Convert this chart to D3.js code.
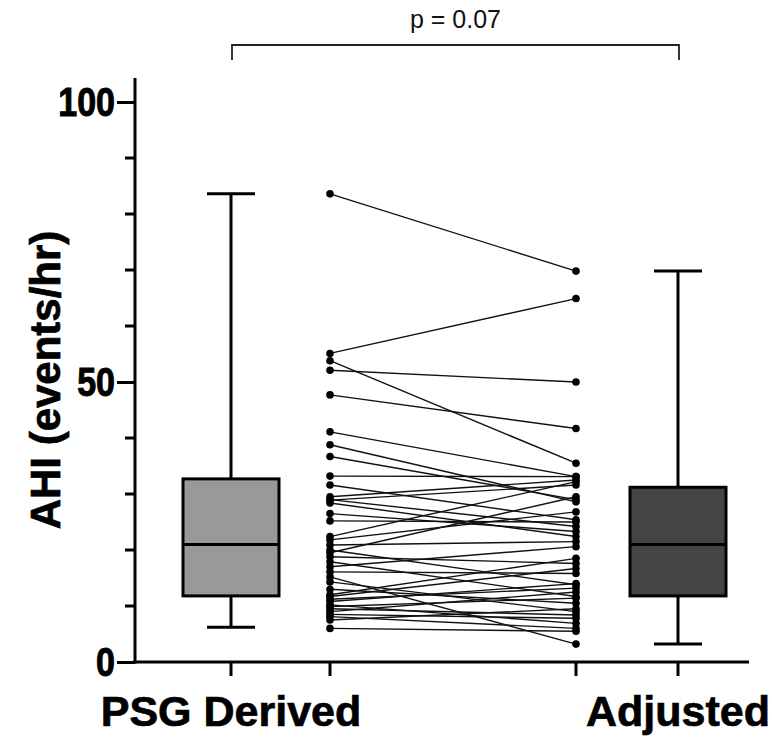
<!DOCTYPE html>
<html>
<head>
<meta charset="utf-8">
<script src="https://cdn.jsdelivr.net/npm/d3@7/dist/d3.min.js"></script>
<style>
  html, body { margin: 0; padding: 0; background: #ffffff; }
  svg { display: block; }
</style>
</head>
<body>
<svg id="chart" width="772" height="739"></svg>
<script>
// ---------------- DATA ----------------
const groups = ["PSG Derived", "Adjusted"];
const yTickValues = [0, 50, 100];
const yMinorTicks = [10, 20, 30, 40, 60, 70, 80, 90];
const yLabel = "AHI (events/hr)";
const pLabel = "p = 0.07";

// box-plot summaries: [min, q1, median, q3, max]
const psgBox = [6.2, 11.8, 21.0, 32.7, 83.6];
const adjBox = [3.2, 11.8, 21.0, 31.2, 69.8];

// paired per-subject values (PSG derived -> adjusted)
const psgValues = [83.6, 55.1, 53.8, 52.1, 47.7, 41.1, 38.8, 36.7, 33.2, 31.6,
                   29.5, 28.9, 28.4, 26.5, 25.2, 22.4, 21.8, 20.9, 20.0, 18.8,
                   17.9, 17.0, 16.1, 15.2, 14.3, 12.0, 11.7, 11.2, 10.8, 10.2,
                   9.9, 9.5, 9.0, 8.5, 8.1, 7.5, 6.0, 29.0, 19.5, 13.0];
const adjValues = [69.8, 64.9, 35.5, 50.0, 41.7, 33.1, 28.6, 29.0, 33.1, 25.4,
                   32.5, 31.6, 22.4, 23.3, 25.0, 32.2, 26.8, 21.5, 13.8, 17.6,
                   11.7, 20.6, 15.8, 3.2, 9.0, 18.5, 16.7, 13.2, 14.0, 6.9,
                   11.4, 8.4, 12.5, 7.8, 6.0, 9.5, 5.5, 24.2, 29.5, 10.5];

// ---------------- LAYOUT ----------------
const svg = d3.select("#chart");
svg.append("rect").attr("width", 772).attr("height", 739).attr("fill", "#fff");

const axisX = 135, axisY = 662, axisRight = 749;
const y = d3.scaleLinear().domain([0, 100]).range([662, 102]);

// slot positions: box, points, points, box
const slots = ["psgBox", "psgPts", "adjPts", "adjBox"];
const x = d3.scaleOrdinal().domain(slots).range([231, 330, 576, 678]);

const boxW = 96, capW = 48;
const fontBold = "'Liberation Sans', Arial, sans-serif";

// ----- Y axis -----
const yAxisG = svg.append("g").attr("transform", `translate(${axisX},0)`);
yAxisG.call(d3.axisLeft(y).tickValues(yTickValues).tickSize(18).tickSizeOuter(0).tickPadding(2))
  .call(g => g.select(".domain").remove());
yAxisG.selectAll(".tick line").attr("stroke", "#000").attr("stroke-width", 3);
yAxisG.selectAll(".tick text")
  .attr("font-family", fontBold).attr("font-weight", "bold")
  .attr("font-size", 40).attr("fill", "#000")
  .attr("stroke", "#000").attr("stroke-width", 1)
  .attr("dy", "0.34em")
  .each(function () {
    const w = this.getComputedTextLength();
    d3.select(this).attr("textLength", w * 0.85).attr("lengthAdjust", "spacingAndGlyphs");
  });
yAxisG.selectAll(".minor").data(yMinorTicks).enter().append("line")
  .attr("x1", -10).attr("x2", 0)
  .attr("y1", d => y(d)).attr("y2", d => y(d))
  .attr("stroke", "#000").attr("stroke-width", 3);
yAxisG.append("line")
  .attr("x1", 0).attr("x2", 0)
  .attr("y1", y(0) + 1.5).attr("y2", y(104.3))
  .attr("stroke", "#000").attr("stroke-width", 3);

// ----- X axis -----
svg.append("line")
  .attr("x1", axisX - 1.5).attr("x2", axisRight)
  .attr("y1", axisY).attr("y2", axisY)
  .attr("stroke", "#000").attr("stroke-width", 3);
svg.selectAll(".xtick").data(slots).enter().append("line")
  .attr("x1", d => x(d)).attr("x2", d => x(d))
  .attr("y1", axisY).attr("y2", axisY + 14)
  .attr("stroke", "#000").attr("stroke-width", 3);

svg.selectAll(".xlabel").data(groups).enter().append("text")
  .attr("x", (d, i) => x(i === 0 ? "psgBox" : "adjBox"))
  .attr("y", 726)
  .attr("text-anchor", "middle")
  .attr("font-family", fontBold).attr("font-weight", "bold")
  .attr("font-size", 43).attr("fill", "#000")
  .attr("stroke", "#000").attr("stroke-width", 0.7)
  .text(d => d);

// Y label
svg.append("text")
  .attr("transform", `translate(60,380) rotate(-90)`)
  .attr("text-anchor", "middle")
  .attr("font-family", fontBold).attr("font-weight", "bold")
  .attr("font-size", 42).attr("fill", "#000")
  .attr("stroke", "#000").attr("stroke-width", 0.7)
  .text(yLabel);

// ----- Box plots -----
function drawBox(stats, cx, fill) {
  const [mn, q1, med, q3, mx] = stats;
  const g = svg.append("g");
  g.append("line").attr("x1", cx).attr("x2", cx).attr("y1", y(mx)).attr("y2", y(q3))
    .attr("stroke", "#000").attr("stroke-width", 3);
  g.append("line").attr("x1", cx).attr("x2", cx).attr("y1", y(q1)).attr("y2", y(mn))
    .attr("stroke", "#000").attr("stroke-width", 3);
  g.append("line").attr("x1", cx - capW / 2).attr("x2", cx + capW / 2).attr("y1", y(mx)).attr("y2", y(mx))
    .attr("stroke", "#000").attr("stroke-width", 3);
  g.append("line").attr("x1", cx - capW / 2).attr("x2", cx + capW / 2).attr("y1", y(mn)).attr("y2", y(mn))
    .attr("stroke", "#000").attr("stroke-width", 3);
  g.append("rect").attr("x", cx - boxW / 2).attr("width", boxW)
    .attr("y", y(q3)).attr("height", y(q1) - y(q3))
    .attr("fill", fill).attr("stroke", "#000").attr("stroke-width", 3);
  g.append("line").attr("x1", cx - boxW / 2).attr("x2", cx + boxW / 2).attr("y1", y(med)).attr("y2", y(med))
    .attr("stroke", "#000").attr("stroke-width", 3);
}
drawBox(psgBox, x("psgBox"), "#999999");
drawBox(adjBox, x("adjBox"), "#444444");

// ----- Paired lines -----
const pairs = psgValues.map((v, i) => ({ a: v, b: adjValues[i] }));
svg.append("g").selectAll("line").data(pairs).enter().append("line")
  .attr("x1", x("psgPts")).attr("x2", x("adjPts"))
  .attr("y1", d => y(d.a)).attr("y2", d => y(d.b))
  .attr("stroke", "#111").attr("stroke-width", 1.4);
svg.append("g").selectAll("circle").data(psgValues).enter().append("circle")
  .attr("cx", x("psgPts")).attr("cy", d => y(d)).attr("r", 3.8).attr("fill", "#000");
svg.append("g").selectAll("circle").data(adjValues).enter().append("circle")
  .attr("cx", x("adjPts")).attr("cy", d => y(d)).attr("r", 3.8).attr("fill", "#000");

// ----- Significance bracket -----
const bx1 = x("psgBox") + 1, bx2 = x("adjBox") + 1, bTop = 45, bBot = 60;
svg.append("path")
  .attr("d", `M${bx1},${bBot}V${bTop}H${bx2}V${bBot}`)
  .attr("fill", "none").attr("stroke", "#222").attr("stroke-width", 1.8);
svg.append("text")
  .attr("x", (bx1 + bx2) / 2).attr("y", 28)
  .attr("text-anchor", "middle")
  .attr("font-family", "'Liberation Sans', Arial, sans-serif")
  .attr("font-size", 25).attr("fill", "#111")
  .text(pLabel);
</script>
</body>
</html>
